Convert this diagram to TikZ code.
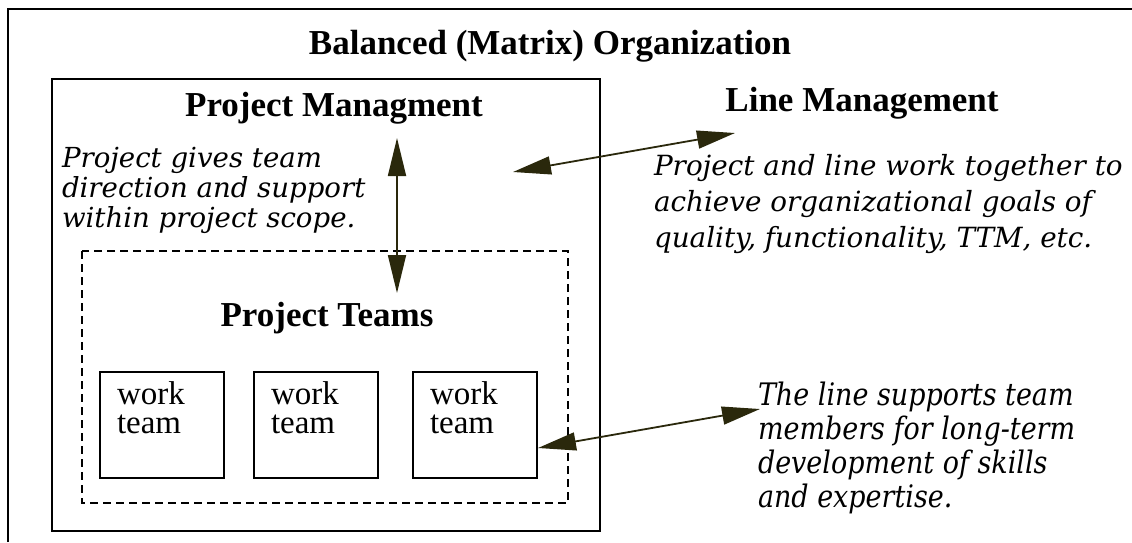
\documentclass[tikz,border=0pt]{standalone}
\usepackage{fontspec}
\setmainfont{Liberation Serif}
\newfontfamily\notefont{DejaVu Serif}
\newfontfamily\narrowfont{DejaVu Serif}[FakeStretch=0.87]
\usetikzlibrary{arrows.meta,positioning}

\begin{document}
\begin{tikzpicture}[x=1pt, y=-1pt, line width=2pt]
	% Colores
	\definecolor{arrowink}{RGB}{42,40,12} % oliva muy oscuro de las flechas
	
	% Estilos
	\tikzset{
		heading/.style={font=\bfseries\fontsize{35}{40}\selectfont},
		note/.style={align=left, inner sep=0pt, anchor=north west, font=\notefont\itshape\fontsize{27.6}{30}\selectfont},
		teambox/.style={draw, minimum width=124pt, minimum height=106pt, anchor=north west},
		worktext/.style={align=left, inner sep=0pt, anchor=north west, font=\fontsize{33}{29}\selectfont},
		link/.style={arrowink, line width=1.8pt, {Triangle[length=38pt,width=18pt]}-{Triangle[length=38pt,width=18pt]}}
	}
	\useasboundingbox (0,0) rectangle (1132,542);
	
	% --- Marco exterior (sale por la derecha y por abajo) ---
	\draw (8,542) |- (1140,9);
	\node[heading] (title) at (550,46) {Balanced (Matrix) Organization};
	
	% --- Bloque de proyecto ---
	\draw (52,79) rectangle (600,531);
	\node[heading] (pm) at (334,108) {Project Managment};
	\node[note] (pmnote) at (61,146) {Project gives team\\direction and support\\within project scope.};
	
	% --- Equipos (caja punteada) ---
	\draw[line width=1.5pt, dash pattern=on 8pt off 5pt] (82,251) rectangle (568,503);
	\node[heading] (pt) at (327,318) {Project Teams};
	\foreach \x/\n in {99/1, 253/2, 412/3} {
		\node[teambox] (wt\n) at (\x,371) {};
		\node[worktext] at (\x+17,381) {work\\team};
	}
	
	% --- Linea ---
	\node[heading] (lm) at (862,103) {Line Management};
	\node[note, font=\notefont\itshape\fontsize{27.8}{36}\selectfont] (lmnote) at (653,153) {Project and line work together to\\achieve organizational goals of\\quality, functionality, TTM, etc.};
	\node[note, font=\narrowfont\itshape\fontsize{31}{34}\selectfont] (tmnote) at (757,381) {The line supports team\\members for long-term\\development of skills\\and expertise.};
	
	% --- Flechas ---
	\coordinate (pmtip) at (397,138);
	\coordinate (pttip) at (397,293);
	\coordinate (pmside) at (513,172);
	\coordinate (lmtip) at (735,133);
	\coordinate (tmtip) at (760,409);
	\draw[link] (pmtip) -- (pttip);
	\draw[link] (pmside) -- (lmtip);
	\draw[link] ([yshift=-23pt]wt3.east) -- (tmtip);
	
\end{tikzpicture}
\end{document}
